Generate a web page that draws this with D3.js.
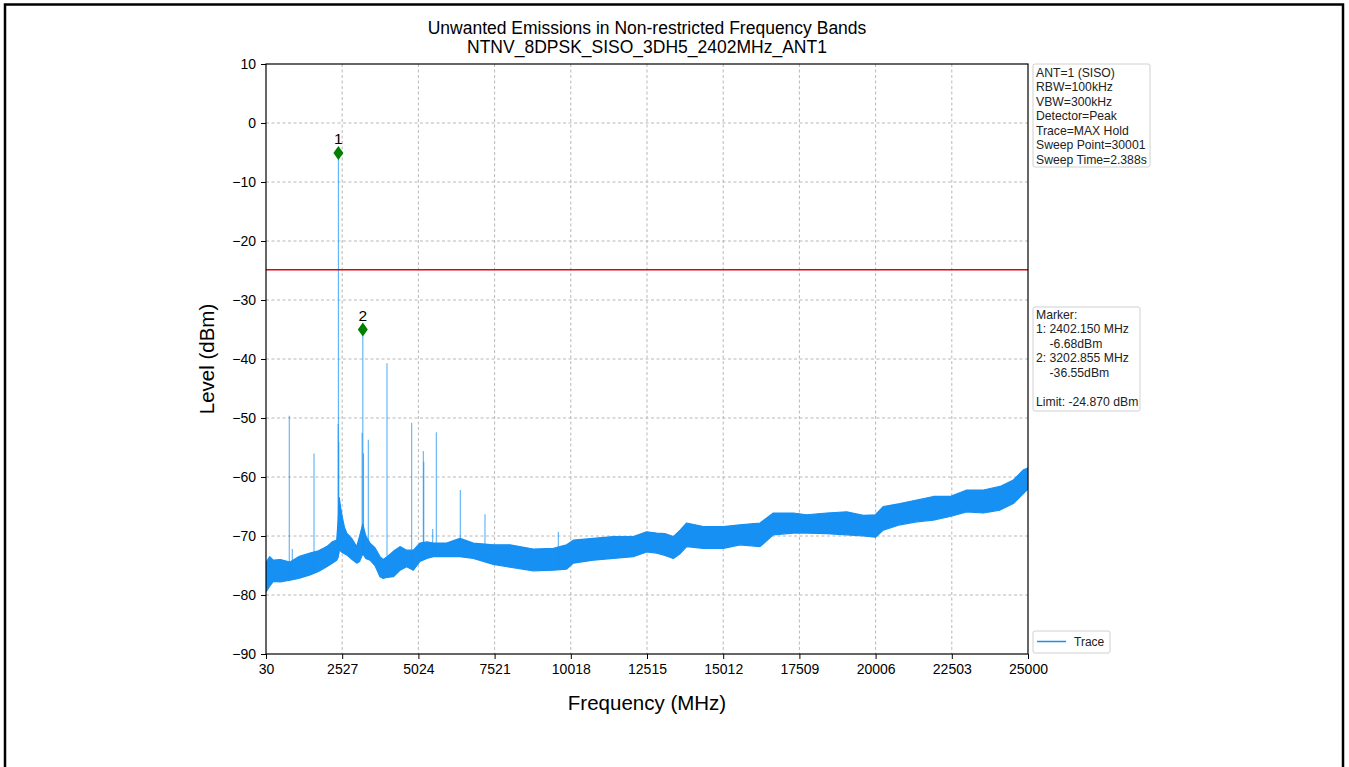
<!DOCTYPE html>
<html>
<head>
<meta charset="utf-8">
<script src="https://cdn.jsdelivr.net/npm/d3@7/dist/d3.min.js"></script>
<style>
  html, body { margin: 0; padding: 0; background: #fff; }
  svg { display: block; font-family: "Liberation Sans", Arial, sans-serif; }
</style>
</head>
<body>
<svg id="chart" width="1349" height="767"></svg>
<script>
// ---------- data ----------
const titleLines = ["Unwanted Emissions in Non-restricted Frequency Bands", "NTNV_8DPSK_SISO_3DH5_2402MHz_ANT1"];
const xTicks = [30, 2527, 5024, 7521, 10018, 12515, 15012, 17509, 20006, 22503, 25000];
const yTicks = [10, 0, -10, -20, -30, -40, -50, -60, -70, -80, -90];

// noise floor envelope of the trace (frequency MHz, upper dBm, lower dBm)
const bandFreq = [30,150,270,500,816,1100,1472,1750,2019,2200,2347,2400,2430,2470,2530,2600,2674,2850,3002,3100,3200,3300,3438,3600,3765,3874,4000,4202,4421,4640,4858,5076,5300,5513,5950,6387,6824,7479,8026,8790,9445,9882,10100,10756,11411,12067,12504,12831,13100,13378,13600,13815,14361,15017,15563,16218,16655,17311,17748,18403,19058,19600,20000,20259,20806,21352,21898,22445,22991,23537,24083,24520,24848,25000];
const bandUpper = [-74.5,-73.5,-74.1,-74.0,-74.4,-73.5,-72.9,-72.5,-71.8,-71.0,-70.7,-67.0,-63.5,-65.0,-66.8,-68.5,-69.5,-70.5,-71.8,-70.0,-68.0,-70.0,-71.2,-72.0,-73.5,-74.0,-73.5,-72.6,-71.8,-72.4,-72.4,-71.2,-71.0,-71.2,-71.2,-70.4,-71.2,-71.5,-71.5,-72.2,-72.1,-71.5,-70.7,-70.4,-70.1,-70.1,-69.3,-69.5,-69.6,-70.1,-69.0,-67.8,-68.4,-68.4,-68.1,-67.8,-66.1,-66.1,-66.4,-66.1,-65.9,-66.5,-66.4,-65.0,-64.5,-63.9,-63.3,-63.3,-62.2,-62.2,-61.6,-60.5,-58.8,-58.5];
const bandLower = [-79.5,-78.5,-77.7,-77.8,-77.5,-77.2,-76.6,-76.0,-75.2,-74.6,-74.1,-73.5,-72.5,-72.5,-72.8,-73.0,-73.2,-74.0,-74.6,-74.3,-73.0,-73.8,-74.1,-75.0,-76.9,-77.2,-77.0,-76.9,-75.8,-75.2,-75.8,-74.3,-73.8,-73.5,-73.5,-73.5,-73.8,-74.8,-75.3,-75.9,-75.8,-75.6,-74.6,-74.1,-73.8,-73.5,-72.7,-72.9,-73.3,-73.8,-73.0,-71.8,-72.1,-72.1,-71.5,-71.8,-69.8,-69.5,-69.5,-69.6,-69.8,-70.0,-70.2,-69.0,-68.1,-67.6,-67.3,-66.7,-65.9,-66.1,-65.6,-64.5,-62.8,-62.0];

// discrete spurious spikes (frequency MHz, peak dBm)
const spikeFreq  = [793, 892, 1603, 2395, 2402.15, 2415, 3180, 3202.855, 3225, 3383, 3995, 4804, 5185, 5200, 5492, 5611, 6397, 7206, 9609];
const spikeLevel = [-49.6, -72.2, -56.0, -51.0, -5.1, -54.0, -52.5, -35.0, -56.0, -53.7, -40.7, -50.8, -55.6, -57.4, -68.8, -52.4, -62.2, -66.3, -69.3];

// markers
const markerLabel = ["1", "2"];
const markerFreq  = [2402.15, 3202.855];
const markerLevel = [-5.1, -35.0];

const limitLevel = -24.87;

const infoLines = ["ANT=1 (SISO)", "RBW=100kHz", "VBW=300kHz", "Detector=Peak", "Trace=MAX Hold", "Sweep Point=30001", "Sweep Time=2.388s"];
const markerLines = ["Marker:", "1: 2402.150 MHz", "    -6.68dBm", "2: 3202.855 MHz", "    -36.55dBm", "", "Limit: -24.870 dBm"];
const legendLabel = "Trace";

// ---------- drawing ----------
(function () {
const svg = d3.select("#chart");
const traceColor = "#1690f2";

// outer frame
svg.append("rect").attr("x", 5).attr("y", 4.5).attr("width", 1338).attr("height", 770)
  .attr("fill", "none").attr("stroke", "#000").attr("stroke-width", 2.5);

const pL = 266, pR = 1028, pT = 64, pB = 654;
const x = d3.scaleLinear().domain([30, 25000]).range([pL, pR]);
const y = d3.scaleLinear().domain([-90, 10]).range([pB, pT]);

// grid
const grid = svg.append("g");
grid.selectAll("line.vx").data(xTicks.slice(1, -1)).join("line")
  .attr("x1", d => x(d)).attr("x2", d => x(d)).attr("y1", pT).attr("y2", pB)
  .attr("stroke", "#b0b0b0").attr("stroke-width", 0.9).attr("stroke-dasharray", "3,2.5");
grid.selectAll("line.hy").data(yTicks.slice(1, -1)).join("line")
  .attr("x1", pL).attr("x2", pR).attr("y1", d => y(d)).attr("y2", d => y(d))
  .attr("stroke", "#b0b0b0").attr("stroke-width", 0.9).attr("stroke-dasharray", "3,2.5");

// clip
svg.append("clipPath").attr("id", "plotclip").append("rect")
  .attr("x", pL).attr("y", pT).attr("width", pR - pL).attr("height", pB - pT);
const plot = svg.append("g").attr("clip-path", "url(#plotclip)");

// noise band
const bandData = bandFreq.map((f, i) => ({ f, u: bandUpper[i], l: bandLower[i] }));
plot.append("path").datum(bandData)
  .attr("d", d3.area().x(d => x(d.f)).y0(d => y(d.l)).y1(d => y(d.u)))
  .attr("fill", traceColor).attr("stroke", traceColor).attr("stroke-width", 1.2).attr("stroke-linejoin", "round");

// spikes
const lowerAt = d3.scaleLinear().domain(bandFreq).range(bandLower);
plot.selectAll("line.spike").data(spikeFreq.map((f, i) => ({ f, v: spikeLevel[i] }))).join("line")
  .attr("x1", d => x(d.f)).attr("x2", d => x(d.f))
  .attr("y1", d => y(lowerAt(d.f))).attr("y2", d => y(d.v))
  .attr("stroke", traceColor).attr("stroke-width", 1.1).attr("stroke-opacity", 0.7);

// limit line
plot.append("line").attr("x1", pL).attr("x2", pR).attr("y1", y(limitLevel)).attr("y2", y(limitLevel))
  .attr("stroke", "#e8000b").attr("stroke-width", 1.3);

// markers
const mk = markerFreq.map((f, i) => ({ f, v: markerLevel[i], t: markerLabel[i] }));
svg.selectAll("path.mk").data(mk).join("path")
  .attr("d", d => `M${x(d.f)},${y(d.v) - 7}L${x(d.f) + 5},${y(d.v)}L${x(d.f)},${y(d.v) + 7}L${x(d.f) - 5},${y(d.v)}Z`)
  .attr("fill", "#008000");
svg.selectAll("text.mk").data(mk).join("text")
  .attr("x", d => x(d.f)).attr("y", d => y(d.v) - 9)
  .attr("text-anchor", "middle").attr("font-size", 15.5).attr("fill", "#000").text(d => d.t);

// axes
const xAxis = d3.axisBottom(x).tickValues(xTicks).tickFormat(d3.format("d")).tickSize(5).tickPadding(5);
const yAxis = d3.axisLeft(y).tickValues(yTicks).tickFormat(d => d3.format("d")(d).replace("-", "\u2212")).tickSize(5).tickPadding(5);
const gx = svg.append("g").attr("transform", `translate(0,${pB})`).call(xAxis);
const gy = svg.append("g").attr("transform", `translate(${pL},0)`).call(yAxis);
[gx, gy].forEach(g => {
  g.selectAll("text").attr("font-size", 14).attr("fill", "#000").attr("font-family", "Liberation Sans, Arial, sans-serif");
  g.selectAll("line").attr("stroke", "#000");
  g.select(".domain").remove();
});
// spines
svg.append("rect").attr("x", pL).attr("y", pT).attr("width", pR - pL).attr("height", pB - pT)
  .attr("fill", "none").attr("stroke", "#000").attr("stroke-width", 1.2);

// axis labels
svg.append("text").attr("x", (pL + pR) / 2).attr("y", 710).attr("text-anchor", "middle")
  .attr("font-size", 20.5).text("Frequency (MHz)");
svg.append("text").attr("transform", `translate(214,${(pT + pB) / 2}) rotate(-90)`).attr("text-anchor", "middle")
  .attr("font-size", 20.5).text("Level (dBm)");

// title
svg.selectAll("text.title").data(titleLines).join("text")
  .attr("x", (pL + pR) / 2).attr("y", (d, i) => 34 + i * 19).attr("text-anchor", "middle")
  .attr("font-size", 17.5).text(d => d);

// info boxes
function infoBox(lines, bx, by, bw, bh, firstBase) {
  svg.append("rect").attr("x", bx).attr("y", by).attr("width", bw).attr("height", bh).attr("rx", 2)
    .attr("fill", "#fff").attr("stroke", "#d0d0d0").attr("stroke-width", 1);
  svg.append("g").selectAll("text").data(lines).join("text")
    .attr("x", bx + 3).attr("y", (d, i) => firstBase + i * 14.5)
    .attr("font-size", 12.2).attr("fill", "#222").style("white-space", "pre").text(d => d);
}
infoBox(infoLines, 1033, 64, 117, 103, 76.5);
infoBox(markerLines, 1033, 307, 107, 104, 318.5);

// legend
svg.append("rect").attr("x", 1033).attr("y", 631).attr("width", 77).attr("height", 22).attr("rx", 2)
  .attr("fill", "#fff").attr("stroke", "#d0d0d0").attr("stroke-width", 1);
svg.append("line").attr("x1", 1037).attr("x2", 1066).attr("y1", 641.5).attr("y2", 641.5)
  .attr("stroke", traceColor).attr("stroke-width", 1.5);
svg.append("text").attr("x", 1074).attr("y", 645.5).attr("font-size", 12).attr("fill", "#222").text(legendLabel);
})();
</script>
</body>
</html>
